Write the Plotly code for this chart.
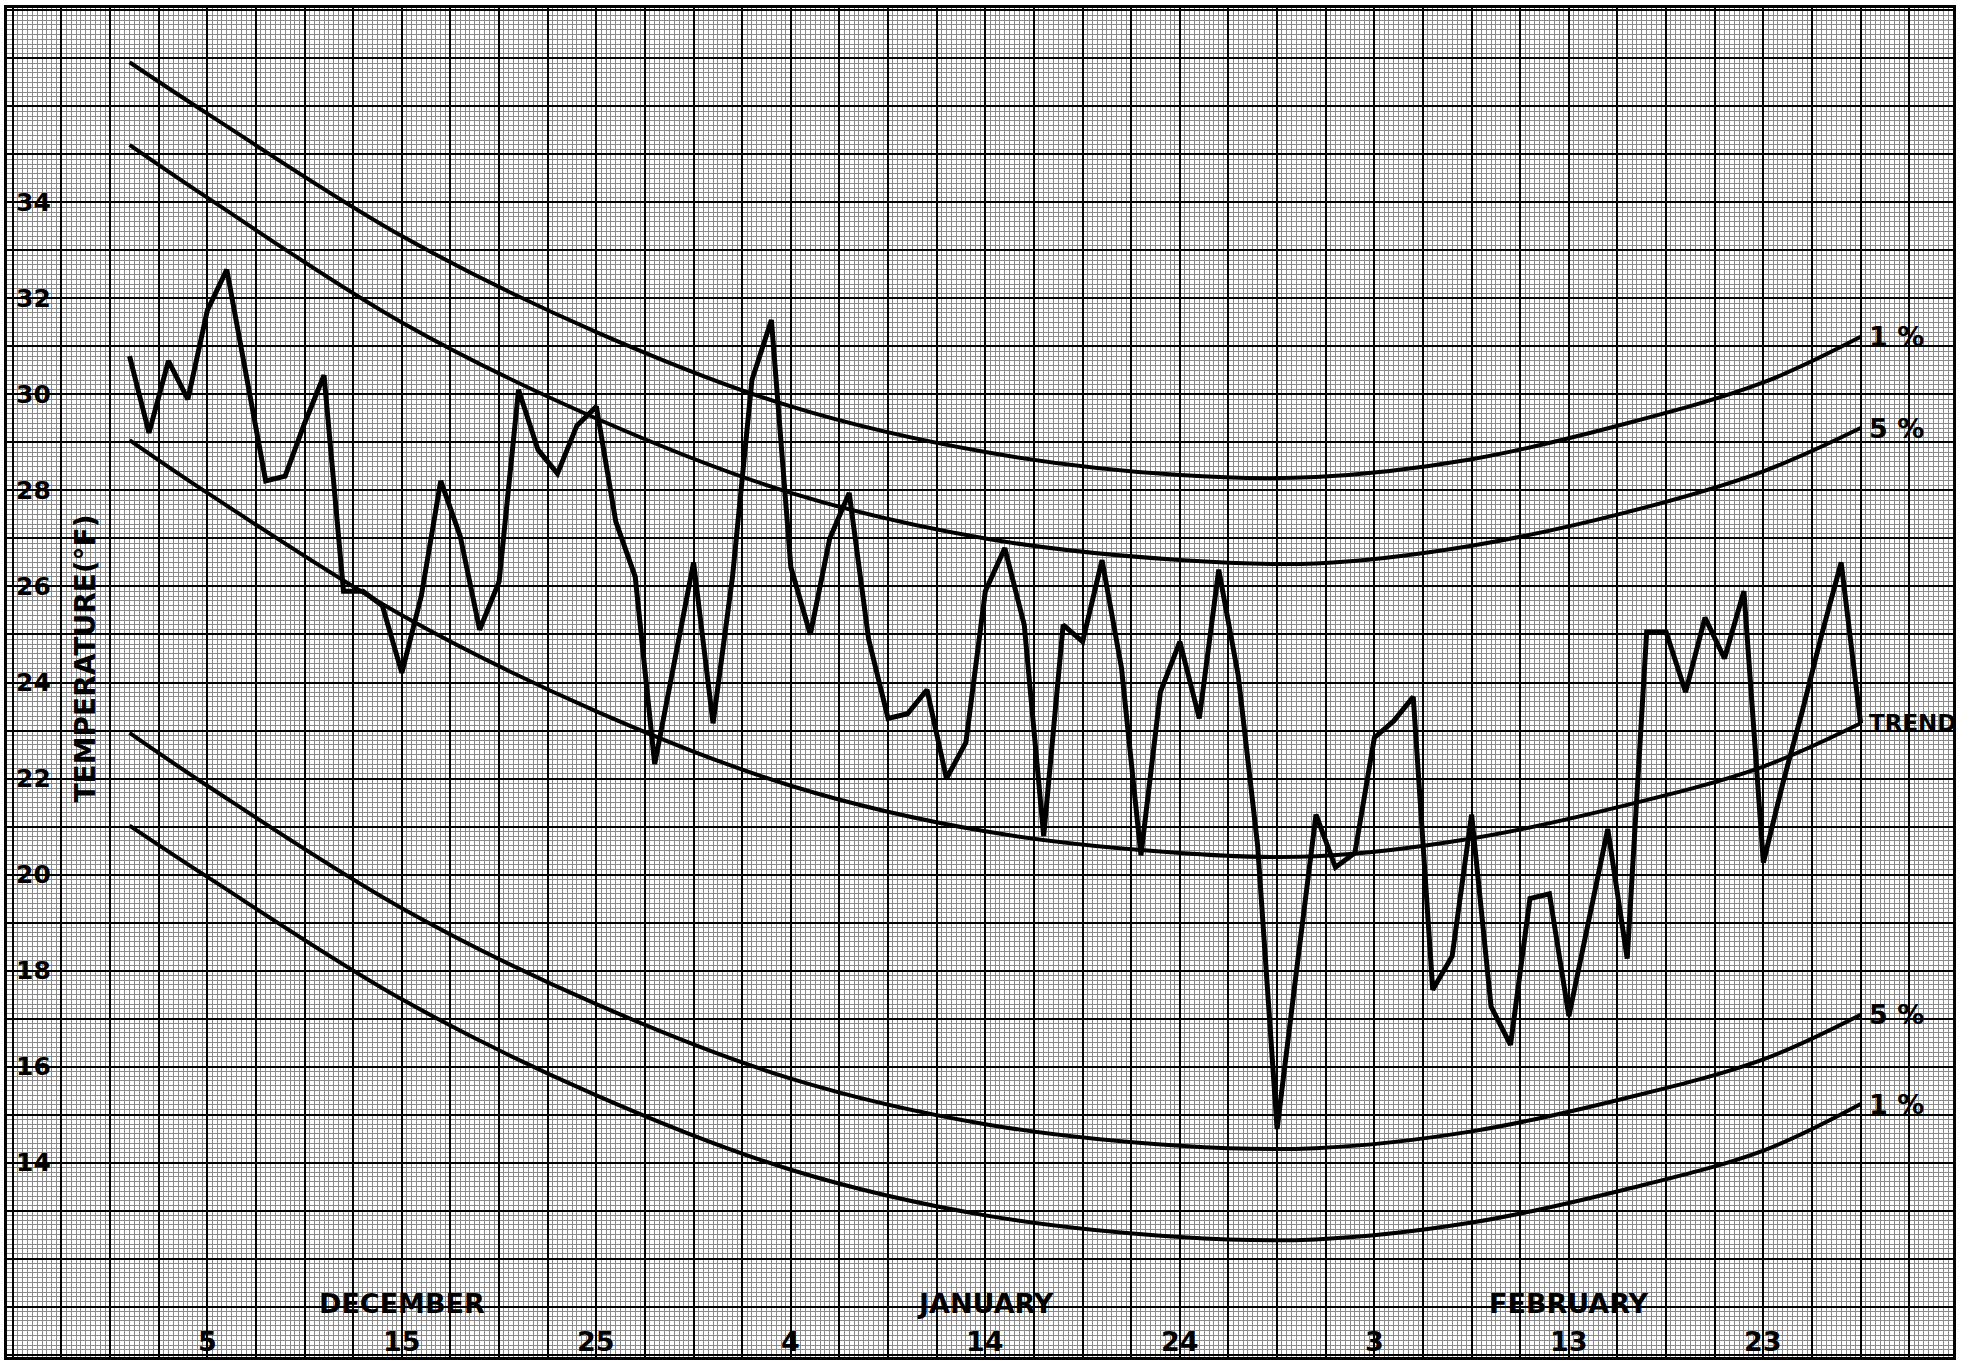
import plotly.graph_objects as go

# Daily mean temperature (deg F), 1 December to 28 February; day 1 = 1 December
day = list(range(1, 91))
temp_dec = [30.8, 29.2, 30.7, 29.9, 31.75, 32.6, 30.4, 28.2, 28.3, 29.4,
            30.4, 25.9, 25.9, 25.6, 24.2, 25.8, 28.2, 27.05, 25.1, 26.1,
            30.1, 28.85, 28.35, 29.35, 29.75, 27.35, 26.2, 22.3, 24.4, 26.5,
            23.15]
temp_jan = [26.2, 30.3, 31.55, 26.4, 25.0, 27.0, 27.95, 24.9, 23.25, 23.35,
            23.85, 22.0, 22.75, 25.9, 26.8, 25.2, 20.8, 25.2, 24.85, 26.55,
            24.3, 20.4, 23.8, 24.85, 23.25, 26.35, 24.15, 20.6, 14.7, 18.0,
            21.25]
temp_feb = [20.15, 20.45, 22.85, 23.2, 23.7, 17.6, 18.3, 21.25, 17.25, 16.45,
            19.5, 19.6, 17.05, 19.0, 20.95, 18.25, 25.05, 25.05, 23.8, 25.35,
            24.5, 25.9, 20.25, 21.9, 23.4, 25.0, 26.5, 23.15]
temps = temp_dec + temp_jan + temp_feb

# Seasonal trend and its confidence limits, sampled along the season
curve_days = [1, 5, 15, 25, 35, 45, 55, 62, 70, 78, 85, 90]
trend   = [29.05, 27.95, 25.4, 23.4, 21.85, 20.9, 20.45, 20.38, 20.75, 21.45, 22.25, 23.15]
upper_1 = [36.92, 35.85, 33.3, 31.3, 29.75, 28.8, 28.32, 28.28, 28.65, 29.4, 30.25, 31.2]
upper_5 = [35.2, 34.1, 31.5, 29.5, 27.95, 27.0, 26.55, 26.48, 26.85, 27.55, 28.4, 29.3]
lower_5 = [22.95, 21.85, 19.3, 17.3, 15.75, 14.8, 14.35, 14.3, 14.65, 15.35, 16.15, 17.08]
lower_1 = [21.02, 19.95, 17.4, 15.4, 13.85, 12.9, 12.45, 12.4, 12.75, 13.45, 14.25, 15.22]

curves = [upper_1, upper_5, trend, lower_5, lower_1]
curve_labels = ["1 %", "5 %", "TREND", "5 %", "1 %"]
curve_label_sizes = [27, 27, 23, 27, 27]

# Axis labelling
y_tick_vals = [14, 16, 18, 20, 22, 24, 26, 28, 30, 32, 34]
day_tick_pos = [5, 15, 25, 35, 45, 55, 65, 75, 85]
day_tick_text = ["5", "15", "25", "4", "14", "24", "3", "13", "23"]
month_pos = [15, 45, 75]
month_names = ["DECEMBER", "JANUARY", "FEBRUARY"]

FONT = "DejaVu Sans"


def lettering(size):
    return dict(family=FONT, size=size, color="black", weight="bold")


fig = go.Figure()

for c in curves:
    fig.add_trace(go.Scatter(
        x=curve_days, y=c, mode="lines",
        line=dict(color="black", width=4, shape="spline", smoothing=1.0),
        hoverinfo="skip"))

fig.add_trace(go.Scatter(
    x=day, y=temps, mode="lines",
    line=dict(color="black", width=5),
    hoverinfo="skip"))

annotations = []
for v in y_tick_vals:
    annotations.append(dict(x=-4.95, y=v, text=str(v), xanchor="left", yanchor="middle",
                            showarrow=False, font=lettering(25)))
for p, t in zip(day_tick_pos, day_tick_text):
    annotations.append(dict(x=p, y=10.27, text=t, xanchor="center", yanchor="middle",
                            showarrow=False, font=lettering(27)))
for p, t in zip(month_pos, month_names):
    annotations.append(dict(x=p, y=11.06, text=t, xanchor="center", yanchor="middle",
                            showarrow=False, font=lettering(27)))
for c, t, s in zip(curves, curve_labels, curve_label_sizes):
    annotations.append(dict(x=90.35, y=c[-1], text=t, xanchor="left", yanchor="middle",
                            showarrow=False, font=lettering(s)))
annotations.append(dict(x=-1.29, y=24.5, text="TEMPERATURE(°F)", textangle=-90,
                        xanchor="center", yanchor="middle", showarrow=False,
                        font=lettering(28)))

# Graph-paper ruling: heavy lines every major unit, fine lines in tenths
minor_grid = dict(showgrid=True, gridcolor="#8a8a8a", gridwidth=1, ticks="")

fig.update_layout(
    width=1965, height=1361,
    margin=dict(l=7, r=12, t=8, b=4),
    paper_bgcolor="white", plot_bgcolor="white",
    showlegend=False,
    annotations=annotations,
    xaxis=dict(range=[-5.3, 94.75], tick0=0, dtick=2.5, showgrid=True,
               gridcolor="black", gridwidth=2, showticklabels=False, ticks="",
               zeroline=False, showline=True, linecolor="black", linewidth=3,
               mirror=True, minor=dict(tick0=0, dtick=0.25, **minor_grid)),
    yaxis=dict(range=[9.95, 38.05], tick0=0, dtick=1, showgrid=True,
               gridcolor="black", gridwidth=2, showticklabels=False, ticks="",
               zeroline=False, showline=True, linecolor="black", linewidth=3,
               mirror=True, minor=dict(tick0=0, dtick=0.1, **minor_grid)),
)

fig.write_html("out.html", config=dict(displayModeBar=False),
               post_script="document.body.style.margin='0';")
